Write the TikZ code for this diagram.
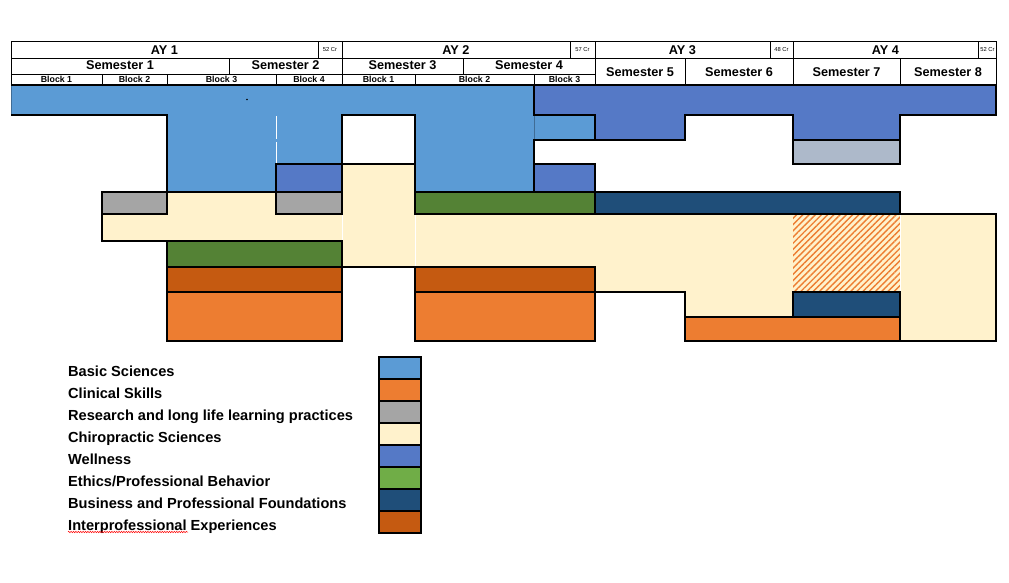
\documentclass[tikz,border=0pt]{standalone}
\usepackage{fontspec}
\setmainfont{Liberation Sans}
\usetikzlibrary{patterns.meta,decorations.pathmorphing}

\definecolor{basic}{HTML}{5B9BD5}
\definecolor{clinical}{HTML}{ED7D31}
\definecolor{research}{HTML}{A5A5A5}
\definecolor{chiro}{HTML}{FFF2CC}
\definecolor{wellness}{HTML}{5579C6}
\definecolor{ethics}{HTML}{548235}
\definecolor{ethicsL}{HTML}{70AD47}
\definecolor{business}{HTML}{1F4E79}
\definecolor{interprof}{HTML}{C55A11}
\definecolor{steel}{HTML}{ADB9CA}

\begin{document}
\begin{tikzpicture}[x=1pt, y=-1pt,
    hdr/.style={font=\fontsize{12.7}{14}\selectfont\bfseries, inner sep=0pt, anchor=base},
    blk/.style={font=\fontsize{8.8}{10}\selectfont\bfseries, inner sep=0pt, anchor=base},
    cr/.style={font=\fontsize{5.8}{7}\selectfont, inner sep=0pt, anchor=base},
    outl/.style={line width=1.6pt},
    legtext/.style={font=\fontsize{14.6}{16}\selectfont\bfseries, inner sep=0pt, anchor=base west},
    swatch/.style={draw, line width=1.6pt, minimum width=42pt, minimum height=22pt, inner sep=0pt}]
    \useasboundingbox (0,0) rectangle (1009,582);

    % Header grid
    \draw[line width=0.8pt] (11,41) rectangle (996,85);
    \draw[line width=0.8pt] (11,58) -- (996,58);
    \draw[line width=0.8pt] (11,74) -- (595,74);
    \foreach \x in {342,595,793}
        \draw[line width=0.8pt] (\x,41) -- (\x,85);
    \foreach \x in {318,570,770,978}
        \draw[line width=0.8pt] (\x,41) -- (\x,58);
    \foreach \x in {229,463}
        \draw[line width=0.8pt] (\x,58) -- (\x,74);
    \foreach \x in {685,900}
        \draw[line width=0.8pt] (\x,58) -- (\x,85);
    \foreach \x in {102,167,276,415,534}
        \draw[line width=0.8pt] (\x,74) -- (\x,85);

    % Header labels
    \foreach \n/\x/\t in {ay1/164.5/AY 1, ay2/456/AY 2, ay3/682.5/AY 3, ay4/885.5/AY 4}
        \node[hdr] (\n) at (\x,54) {\t};
    \foreach \n/\x/\t in {cr1/330/52 Cr, cr2/582.5/57 Cr, cr3/781.5/48 Cr, cr4/987.5/52 Cr}
        \node[cr] (\n) at (\x,51.5) {\t};
    \foreach \n/\x/\t in {sem1/120/Semester 1, sem2/285.5/Semester 2, sem3/402.5/Semester 3, sem4/529/Semester 4}
        \node[hdr] (\n) at (\x,69.5) {\t};
    \foreach \n/\x/\t in {sem5/640/Semester 5, sem6/739/Semester 6, sem7/846.5/Semester 7, sem8/948/Semester 8}
        \node[hdr] (\n) at (\x,76.5) {\t};
    \foreach \n/\x/\t in {blk1/56.5/Block 1, blk2/134.5/Block 2, blk3/221.5/Block 3, blk4/309/Block 4,
                          blk5/378.5/Block 1, blk6/474.5/Block 2, blk7/564.5/Block 3}
        \node[blk] (\n) at (\x,82.8) {\t};

    % Basic sciences
    \fill[basic] (11,85) rectangle (534,115) (167,115) rectangle (342,164)
        (167,164) rectangle (276,192) (415,115) rectangle (534,192) (534,115) rectangle (595,140);
    % Wellness
    \fill[wellness] (534,85) rectangle (996,115) (595,115) rectangle (685,140)
        (793,115) rectangle (900,140) (276,164) rectangle (342,192) (534,164) rectangle (595,192);
    \fill[steel] (793,140) rectangle (900,164);
    % Research
    \fill[research] (102,192) rectangle (167,214) (276,192) rectangle (342,214);
    % Chiropractic sciences
    \fill[chiro] (102,214) rectangle (342,241) (167,192) rectangle (276,214)
        (342,164) rectangle (415,267) (415,214) rectangle (996,267)
        (595,267) rectangle (900,292) (685,292) rectangle (793,317) (900,267) rectangle (996,341);
    \fill[pattern={Lines[angle=45,distance=4.4pt,line width=1.4pt]}, pattern color=clinical]
        (793,214) rectangle (900,292);
    % Ethics, business, interprofessional, clinical
    \fill[ethics] (167,241) rectangle (342,267) (415,192) rectangle (595,214);
    \fill[business] (595,192) rectangle (900,214) (793,292) rectangle (900,317);
    \fill[interprof] (167,267) rectangle (342,292) (415,267) rectangle (595,292);
    \fill[clinical] (167,292) rectangle (342,341) (415,292) rectangle (595,341) (685,317) rectangle (900,341);

    % Seams
    \draw[white, line width=0.6pt] (276,116) -- (276,139) (276,142) -- (276,164);
    \draw[white, line width=0.6pt] (342,215) -- (342,241) (415,215) -- (415,267) (900,215) -- (900,291);
    \draw[basic!70!black, line width=0.5pt] (534,115) -- (534,140) (11,85) -- (11,115);
    \fill (247,99.5) circle (0.8);

    % Outlines
    \draw[outl] (342,115) rectangle (415,164);
    \draw[outl] (276,164) rectangle (342,192) (534,164) rectangle (595,192);
    \draw[outl] (793,140) rectangle (900,164);
    \draw[outl] (102,192) rectangle (167,214) (276,192) rectangle (342,214);
    \draw[outl] (167,241) rectangle (342,267) (415,192) rectangle (595,214);
    \draw[outl] (595,192) rectangle (900,214) (793,292) rectangle (900,317);
    \draw[outl] (167,267) rectangle (342,292) (415,267) rectangle (595,292);
    \draw[outl] (167,292) rectangle (342,341) (415,292) rectangle (595,341) (685,317) rectangle (900,341);
    \draw[outl] (11,115) -- (167,115) -- (167,192) -- (276,192);
    \draw[outl] (102,214) -- (102,241) -- (167,241);
    \draw[outl] (415,164) -- (415,192) (342,267) -- (415,267);
    \draw[outl] (534,85) -- (534,115) -- (595,115) -- (595,140);
    \draw[outl] (534,164) -- (534,140) -- (685,140) -- (685,115) -- (793,115) -- (793,140);
    \draw[outl] (900,140) -- (900,115) -- (996,115) -- (996,85);
    \draw[outl] (900,214) -- (996,214) -- (996,341) -- (900,341);
    \draw[outl] (595,292) -- (685,292) -- (685,317);
    \draw[outl] (11,85) -- (996,85);

    % Legend
    \foreach \c/\t [count=\i from 0] in {basic/Basic Sciences, clinical/Clinical Skills,
            research/Research and long life learning practices, chiro/Chiropractic Sciences,
            wellness/Wellness, ethicsL/{Ethics/Professional Behavior},
            business/Business and Professional Foundations, interprof/Interprofessional Experiences}
    {
        \node[legtext] (lab\i) at (68,376+22*\i) {\t};
        \node[swatch, fill=\c] (sw\i) at (400,368+22*\i) {};
    }
    \draw[red, line width=0.5pt, decorate, decoration={snake, amplitude=0.7pt, segment length=2.4pt}]
        (68,532) -- (188,532);
\end{tikzpicture}
\end{document}
